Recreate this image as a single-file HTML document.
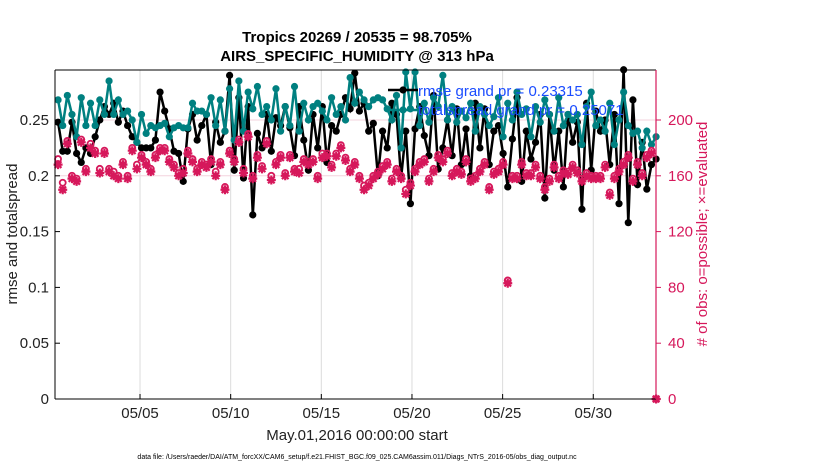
<!DOCTYPE html>
<html><head><meta charset="utf-8"><style>
body{margin:0;background:#fff;width:830px;height:470px;overflow:hidden}
text{font-family:"Liberation Sans",sans-serif}
</style></head><body>
<svg id="chart" width="830" height="470" viewBox="0 0 830 470" xmlns="http://www.w3.org/2000/svg">
<rect width="830" height="470" fill="#fff"/>
<g id="grid"></g><g id="series"></g><g id="axes"></g>
</svg>
<script>
const tickDays=[5,10,15,20,25,30];
const tickLabels=["05/05","05/10","05/15","05/20","05/25","05/30"];
const leftTicks=[0,0.05,0.1,0.15,0.2,0.25];
const leftTickLabels=["0","0.05","0.1","0.15","0.2","0.25"];
const rightTicks=[0,40,80,120,160,200];
const gridCounts=[160,200];
const spread=[0.268,0.245,0.272,0.255,0.235,0.270,0.245,0.265,0.245,0.268,
0.255,0.285,0.255,0.268,0.255,0.258,0.250,0.230,0.255,0.238,
0.245,0.243,0.245,0.247,0.235,0.243,0.245,0.243,0.243,0.265,
0.258,0.258,0.255,0.270,0.245,0.268,0.240,0.278,0.232,0.285,
0.240,0.275,0.260,0.280,0.255,0.262,0.250,0.278,0.240,0.262,
0.245,0.280,0.240,0.265,0.250,0.262,0.265,0.258,0.250,0.270,
0.255,0.262,0.250,0.288,0.265,0.275,0.268,0.262,0.268,0.270,
0.268,0.260,0.250,0.272,0.225,0.293,0.260,0.293,0.245,0.265,
0.248,0.270,0.262,0.290,0.250,0.262,0.248,0.258,0.252,0.265,
0.240,0.262,0.255,0.245,0.253,0.270,0.235,0.265,0.250,0.275,
0.255,0.260,0.235,0.262,0.248,0.268,0.255,0.240,0.270,0.245,
0.255,0.250,0.255,0.228,0.262,0.275,0.245,0.250,0.240,0.265,
0.228,0.250,0.275,0.245,0.238,0.240,0.225,0.240,0.228,0.235];
const rmse=[0.248,0.222,0.222,0.248,0.220,0.212,0.225,0.220,0.235,0.250,
0.262,0.255,0.265,0.248,0.258,0.245,0.235,0.230,0.225,0.225,
0.225,0.232,0.275,0.258,0.242,0.222,0.220,0.195,0.242,0.255,
0.232,0.245,0.255,0.210,0.248,0.230,0.240,0.290,0.205,0.270,
0.198,0.262,0.165,0.238,0.225,0.255,0.222,0.252,0.245,0.262,
0.243,0.218,0.262,0.232,0.205,0.255,0.225,0.262,0.212,0.245,
0.240,0.255,0.270,0.260,0.292,0.258,0.265,0.240,0.247,0.200,
0.240,0.225,0.265,0.255,0.198,0.240,0.175,0.242,0.262,0.236,
0.218,0.272,0.206,0.225,0.250,0.218,0.260,0.210,0.242,0.200,
0.265,0.225,0.260,0.210,0.240,0.245,0.220,0.190,0.233,0.270,
0.195,0.240,0.215,0.230,0.255,0.180,0.255,0.205,0.240,0.190,
0.255,0.230,0.248,0.170,0.265,0.205,0.258,0.240,0.250,0.210,
0.255,0.175,0.295,0.158,0.268,0.192,0.230,0.188,0.210,0.215];
const possible=[172,155,185,160,158,186,165,183,178,165,
178,165,163,160,170,160,180,168,175,170,
165,175,180,180,172,168,162,165,178,172,
165,170,168,172,163,170,152,178,172,186,
165,190,160,175,167,185,160,170,175,162,
175,165,165,172,170,172,160,176,176,168,
176,182,173,165,170,160,153,155,160,163,
167,170,158,165,160,150,155,165,170,172,
158,165,175,172,178,162,165,163,172,158,
160,165,170,152,163,165,170,85,160,160,
170,162,162,168,160,152,158,168,160,164,
163,168,164,158,162,160,160,160,168,148,
160,165,170,175,158,170,162,175,178,0];
const evaluated=[168,150,183,158,156,184,163,180,176,162,
176,163,160,158,168,158,178,165,173,168,
163,173,178,178,170,166,160,162,176,170,
163,168,166,170,160,168,150,176,170,184,
162,188,158,173,165,183,157,168,173,160,
173,163,162,170,168,170,158,173,174,166,
174,180,171,163,168,158,150,153,158,161,
165,168,156,163,158,147,153,163,168,170,
156,163,173,170,176,160,163,161,170,156,
158,163,168,150,161,163,168,83,158,158,
168,160,160,166,158,150,156,166,158,162,
161,166,162,156,160,158,158,158,166,146,
158,163,168,173,156,168,160,173,176,0];
const firstDay=0.48, stepDay=0.2557;
const X0=55,X1=656,Y0=70,Y1=399;
const xs=d=>67.5+(d-1)*18.13;
const yl=v=>Y1-v*1116;
const yr=c=>Y1-c*1116/800;
const NS="http://www.w3.org/2000/svg";
function mk(tag,attrs,parent,txt){const e=document.createElementNS(NS,tag);for(const k in attrs)e.setAttribute(k,attrs[k]);if(txt!==undefined)e.textContent=txt;parent.appendChild(e);return e;}
const G=document.getElementById('grid'),S=document.getElementById('series'),A=document.getElementById('axes');
const RED="#d6185b",TEAL="#008080";
tickDays.forEach((d,i)=>{const l=mk('line',{x1:xs(d),x2:xs(d),y1:Y0,y2:Y1,stroke:'#dcdcdc','stroke-width':1},G);

});
gridCounts.forEach(c=>{const l=mk('line',{x1:X0,x2:X1,y1:yr(c),y2:yr(c),stroke:'#f3d3de','stroke-width':1},G);

});
const px=i=>xs(firstDay+i*stepDay);
function pathOf(arr,f){return arr.map((v,i)=>(i?'L':'M')+px(i).toFixed(1)+','+f(v).toFixed(1)).join('');}
const rl=mk('path',{d:pathOf(rmse,yl),fill:'none',stroke:'#000','stroke-width':2.5},S);


rmse.forEach((v,i)=>{const c=mk('circle',{cx:px(i),cy:yl(v),r:3.6,fill:'#000'},S);

});
const sl=mk('path',{d:pathOf(spread,yl),fill:'none',stroke:TEAL,'stroke-width':2.5},S);


spread.forEach((v,i)=>{const c=mk('circle',{cx:px(i),cy:yl(v),r:3.6,fill:TEAL},S);

});
possible.forEach((v,i)=>{const c=mk('circle',{cx:px(i),cy:yr(v),r:3,fill:'none',stroke:RED,'stroke-width':1.8},S);

});
evaluated.forEach((v,i)=>{const x=px(i),y=yr(v);const d=`M${x-4.5},${y}L${x+4.5},${y}M${x},${y-4.5}L${x},${y+4.5}M${x-3.3},${y-3.3}L${x+3.3},${y+3.3}M${x-3.3},${y+3.3}L${x+3.3},${y-3.3}`;
const p=mk('path',{d:d,stroke:RED,'stroke-width':2.2,fill:'none'},S);

});
mk('line',{x1:X0,x2:X1,y1:Y0,y2:Y0,stroke:'#000','stroke-width':1},A);
mk('line',{x1:X0,x2:X0,y1:Y0,y2:Y1,stroke:'#000','stroke-width':1},A);
mk('line',{x1:X0,x2:X1,y1:Y1,y2:Y1,stroke:'#000','stroke-width':1},A);
mk('line',{x1:X1,x2:X1,y1:Y0,y2:Y1,stroke:RED,'stroke-width':1.2},A);
tickDays.forEach((d,i)=>{mk('line',{x1:xs(d),x2:xs(d),y1:Y1,y2:Y1-5,stroke:'#000'},A);
const t=mk('text',{x:xs(d),y:418,'text-anchor':'middle','font-size':15,fill:'#222'},A,tickLabels[i]);

});
leftTicks.forEach((v,i)=>{mk('line',{x1:X0,x2:X0+5,y1:yl(v),y2:yl(v),stroke:'#000'},A);
const t=mk('text',{x:X0-6,y:yl(v)+5,'text-anchor':'end','font-size':15,fill:'#222'},A,leftTickLabels[i]);

});
rightTicks.forEach(c=>{mk('line',{x1:X1,x2:X1+5,y1:yr(c),y2:yr(c),stroke:RED},A);
const t=mk('text',{x:X1+12,y:yr(c)+5,'font-size':15,fill:RED},A,String(c));

});
</script>
<svg style="position:absolute;left:0;top:0" width="830" height="470">
<text x="357" y="42" text-anchor="middle" font-size="15" font-weight="bold" fill="#000">Tropics 20269 / 20535 = 98.705%</text>
<text x="357" y="61" text-anchor="middle" font-size="15" font-weight="bold" fill="#000">AIRS_SPECIFIC_HUMIDITY @ 313 hPa</text>
<text transform="translate(17,234) rotate(-90)" text-anchor="middle" font-size="15" fill="#222">rmse and totalspread</text>
<text transform="translate(707,234) rotate(-90)" text-anchor="middle" font-size="15" fill="#d6185b"># of obs: o=possible; ×=evaluated</text>
<text x="357" y="440" text-anchor="middle" font-size="15" fill="#222">May.01,2016 00:00:00 start</text>
<text x="357" y="459" text-anchor="middle" font-size="7" fill="#000">data file: /Users/raeder/DAI/ATM_forcXX/CAM6_setup/f.e21.FHIST_BGC.f09_025.CAM6assim.011/Diags_NTrS_2016-05/obs_diag_output.nc</text>
<g>
<line x1="388" x2="418" y1="90" y2="90" stroke="#000" stroke-width="2.5"/><circle cx="403" cy="90" r="3.6" fill="#000"/>
<text x="418" y="96" font-size="15" fill="#1a4cff">rmse grand pr = 0.23315</text>
<line x1="388" x2="418" y1="110" y2="110" stroke="#008080" stroke-width="2.5"/><circle cx="403" cy="110" r="3.6" fill="#008080"/>
<text x="418" y="115" font-size="15" fill="#1a4cff">totalspread grand pr = 0.25071</text>
</g>
</svg>
</body></html>
